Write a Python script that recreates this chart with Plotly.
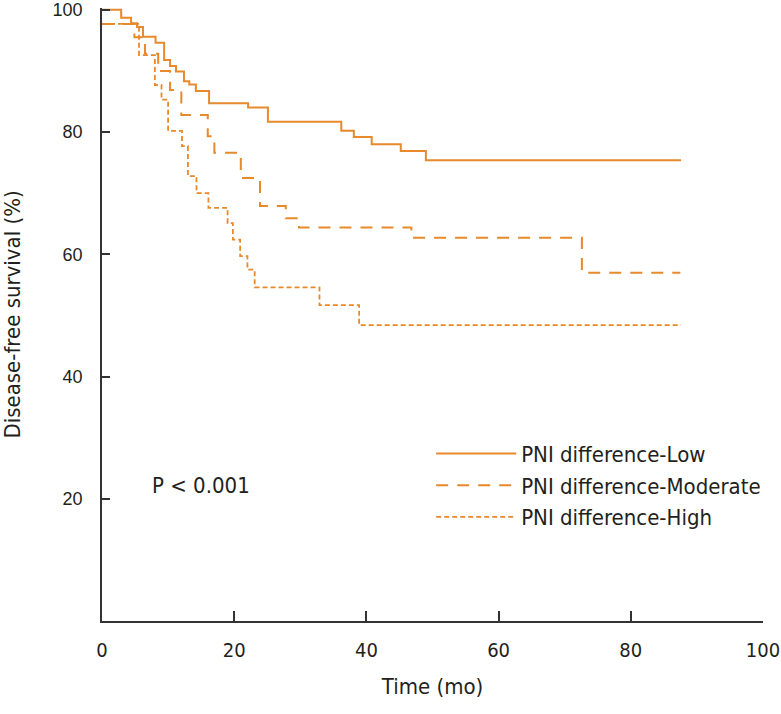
import plotly.graph_objects as go

# Kaplan-Meier step data (time in months, survival %)
low_t = [0, 2.9, 4.4, 5.3, 6.2, 8.1, 9.4, 10.3, 11.2, 12.4, 13.2, 14.2, 16.2, 22.1, 25.1, 36.2, 38.1, 40.8, 45.2, 49.0, 87.6]
low_s = [100, 98.7, 97.8, 97.2, 95.6, 94.6, 91.8, 90.8, 89.9, 88.3, 87.8, 86.7, 84.7, 84.0, 81.7, 80.2, 79.2, 78.0, 76.9, 75.4, 75.4]

mod_t = [0, 4.9, 6.5, 8.5, 10.3, 12.0, 16.0, 17.0, 21.0, 23.9, 27.8, 29.8, 46.8, 72.6, 87.5]
mod_s = [97.7, 95.5, 92.8, 90.0, 86.9, 82.8, 79.3, 76.6, 72.5, 67.9, 65.9, 64.4, 62.7, 57.0, 57.0]

high_t = [0, 5.6, 8.0, 9.0, 10.0, 12.1, 13.0, 14.3, 16.1, 19.0, 19.8, 20.9, 22.0, 23.1, 32.9, 38.9, 87.6]
high_s = [97.7, 92.6, 87.7, 85.3, 80.2, 77.7, 72.8, 70.0, 67.6, 65.1, 62.4, 59.7, 57.5, 54.6, 51.7, 48.4, 48.4]

series_names = ["PNI difference-Low", "PNI difference-Moderate", "PNI difference-High"]
x_ticks = [0, 20, 40, 60, 80, 100]
y_ticks = [20, 40, 60, 80, 100]

ORANGE = "#E8892B"
NARROW = "DejaVu Sans Condensed, Liberation Sans Narrow, Roboto, sans-serif"
TXT = "#231f20"

fig = go.Figure()
fig.add_trace(go.Scatter(x=low_t, y=low_s, mode="lines", line_shape="hv", name=series_names[0],
                         line=dict(color=ORANGE, width=2)))
fig.add_trace(go.Scatter(x=mod_t, y=mod_s, mode="lines", line_shape="hv", name=series_names[1],
                         line=dict(color=ORANGE, width=2, dash="12px,9px")))
fig.add_trace(go.Scatter(x=high_t, y=high_s, mode="lines", line_shape="hv", name=series_names[2],
                         line=dict(color=ORANGE, width=1.8, dash="5px,3px")))

fig.add_annotation(x=7.3, y=22.2, xref="x", yref="y", text="P < 0.001", showarrow=False,
                   xanchor="left", yanchor="middle", font=dict(family=NARROW, size=22, color=TXT))
fig.add_annotation(x=-0.136, y=0.5, xref="paper", yref="paper", text="Disease-free survival (%)",
                   textangle=-90, showarrow=False, xanchor="center", yanchor="middle",
                   font=dict(family=NARROW, size=22, color=TXT))

fig.update_layout(
    width=781, height=714,
    margin=dict(l=102, r=18, t=8, b=93, autoexpand=False),
    paper_bgcolor="white", plot_bgcolor="white",
    showlegend=True,
    legend=dict(x=0.498, y=0.307, xanchor="left", yanchor="top", bgcolor="rgba(0,0,0,0)",
                font=dict(family=NARROW, size=22, color=TXT), itemwidth=80, tracegroupgap=0),
    xaxis=dict(range=[0, 100], tickvals=x_ticks, ticks="inside", ticklen=10, tickwidth=1.5,
               tickcolor="#333", showline=True, linecolor="#333", linewidth=1.5, showgrid=False,
               zeroline=False, ticklabelstandoff=10, automargin=False, ticklabeloverflow="allow",
               tickfont=dict(family=NARROW, size=20, color=TXT),
               title=dict(text="Time (mo)", font=dict(family=NARROW, size=22, color=TXT), standoff=18)),
    yaxis=dict(range=[0, 100.3], tickvals=y_ticks, ticks="inside", ticklen=8, tickwidth=1.5,
               tickcolor="#333", showline=True, linecolor="#333", linewidth=1.5, showgrid=False,
               zeroline=False, ticklabelstandoff=14, automargin=False, ticklabeloverflow="allow",
               tickfont=dict(family="Liberation Sans, Arial, sans-serif", size=18, color=TXT)),
)

fig.write_html("out.html", config={"displayModeBar": False},
               post_script="document.body.style.margin='0';")
